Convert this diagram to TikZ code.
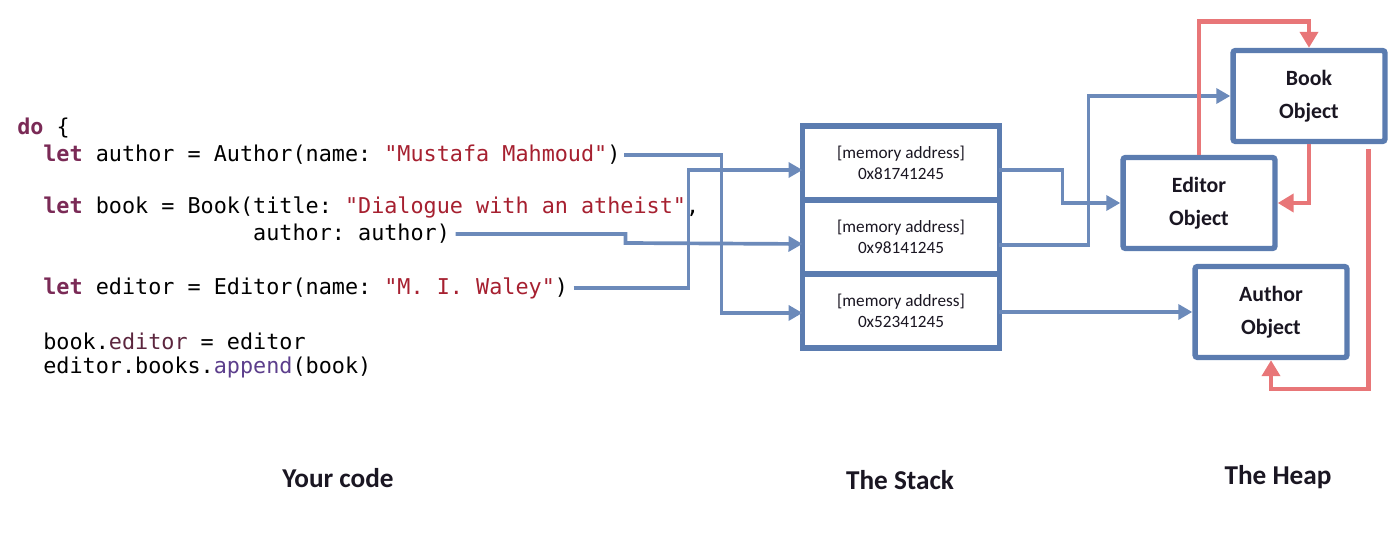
\documentclass[tikz,border=0pt]{standalone}
\usepackage{fontspec}
\setmainfont{Carlito}
\setmonofont{DejaVu Sans Mono}
\usetikzlibrary{arrows.meta,positioning,calc}
\definecolor{bl}{RGB}{91,124,176}
\definecolor{lbl}{RGB}{108,138,186}
\definecolor{rd}{RGB}{232,118,120}
\definecolor{kwc}{RGB}{122,42,86}
\definecolor{strc}{RGB}{166,32,48}
\definecolor{prc}{RGB}{92,38,62}
\definecolor{fnc}{RGB}{92,62,140}
\definecolor{ink}{RGB}{26,22,34}
\newcommand{\kwd}[1]{\textcolor{kwc}{\textbf{#1}}}
\newcommand{\strg}[1]{\textcolor{strc}{#1}}
\newcommand{\prp}[1]{\textcolor{prc}{#1}}
\newcommand{\fnm}[1]{\textcolor{fnc}{#1}}
\tikzset{
    slot/.style =   {rectangle,
                    fill=white,
                    draw=bl,
                    text=ink,
                    line width=3.1pt,
                    outer sep=0pt,
                    align=center,
                    minimum width=3.94cm,
                    minimum height=1.48cm,
                    font=\fontsize{9.8}{12}\selectfont},
    obj/.style =    {rectangle,
                    rounded corners=1.5pt,
                    fill=white,
                    draw=bl,
                    text=ink,
                    line width=3.1pt,
                    align=center,
                    minimum width=3.04cm,
                    minimum height=1.82cm,
                    font=\bfseries\fontsize{12.4}{18.7}\selectfont},
    code/.style =   {anchor=west,
                    inner sep=0pt,
                    font=\ttfamily\fontsize{12.4}{15}\selectfont},
    title/.style =  {text=ink,
                    font=\bfseries\fontsize{15.5}{18}\selectfont},
    ptr/.style =    {draw=lbl,
                    line width=2.1pt,
                    -{Triangle[length=0.28cm,width=0.3cm]}},
    ref/.style =    {draw=rd,
                    line width=2.6pt,
                    -{Triangle[length=0.32cm,width=0.36cm]}}}
\begin{document}
\begin{tikzpicture}[x=0.02cm,y=-0.02cm]
    \useasboundingbox (0,0) rectangle (1400,533);
    % your code
    \node[code] (cdo)  at (17,128)   {\kwd{do} \{};
    \node[code] (codeA) at (43,155)  {\kwd{let} author = Author(name: \strg{"Mustafa Mahmoud"})};
    \node[code] (codeT) at (43,208)  {\kwd{let} book = Book(title: \strg{"Dialogue with an atheist"},};
    \node[code] (codeB) at (43,234)  {\hphantom{let book = Book(}author: author)};
    \node[code] (codeC) at (43,288)  {\kwd{let} editor = Editor(name: \strg{"M. I. Waley"})};
    \node[code] (codeD) at (43,341)  {book.\prp{editor} = editor};
    \node[code] (codeE) at (43,367)  {editor.books.\fnm{append}(book)};
    % the stack
    \node[slot] (slot1) at (901,163) {[memory address]\\0x81741245};
    \node[slot] (slot2) [below=0pt of slot1] {[memory address]\\0x98141245};
    \node[slot] (slot3) [below=0pt of slot2] {[memory address]\\0x52341245};
    % the heap
    \node[obj]  (book)   at (1309,96)  {Book\\Object};
    \node[obj]  (editor) at (1199,203) {Editor\\Object};
    \node[obj]  (author) at (1271,312) {Author\\Object};
    % titles
    \node[title] (tcode)  at (338,478)  {Your code};
    \node[title] (tstack) at (900,480)  {The Stack};
    \node[title] (theap)  at (1278,477) {The Heap};
    % code -> stack
    \draw[ptr] ([xshift=2pt]codeA.east) -- ++(97,0) |- ($(slot3.west)+(0,2)$);
    \draw[ptr] ([xshift=3pt]codeB.east) -| ++(170,9) -- ($(slot2.west)+(0,7)$);
    \draw[ptr] ([xshift=3pt]codeC.east) -| ($(slot1.west)+(-114,7)$) -- ($(slot1.west)+(0,7)$);
    % stack -> heap
    \draw[ptr] ($(slot1.east)+(0,7)$) -- ++(63,0) |- (editor.west);
    \draw[ptr] ($(slot2.east)+(0,8)$) -- ++(89,0) |- (book.west);
    \draw[ptr] (slot3.east |- author.west) -- (author.west);
    % heap references
    \draw[ref] (editor.north) -- ++(0,-133) -| (book.north);
    \draw[ref] (book.south) |- (editor.east);
    \draw[ref] ($(book.south east)+(-19,5)$) -- ++(0,240) -| (author.south);
\end{tikzpicture}
\end{document}
